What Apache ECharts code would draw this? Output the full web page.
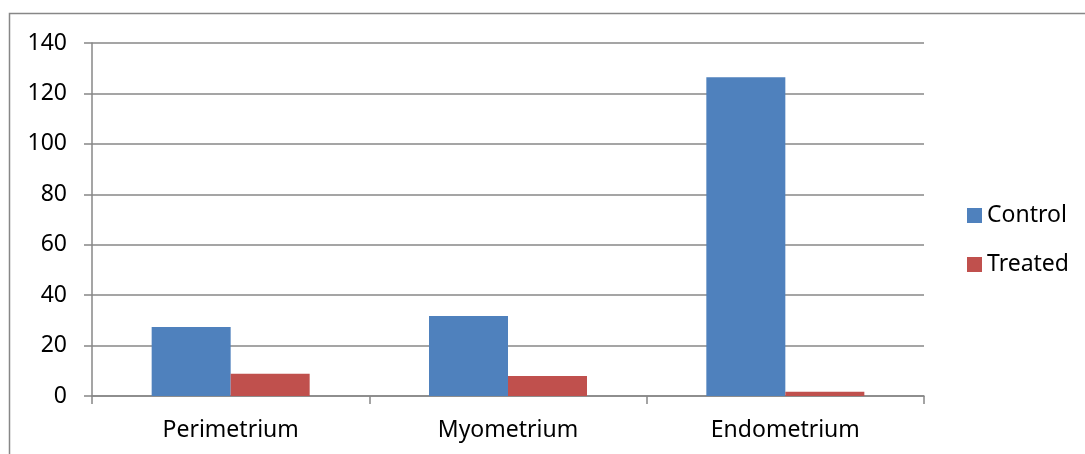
<!DOCTYPE html>
<html>
<head>
<meta charset="utf-8">
<script src="https://cdn.jsdelivr.net/npm/echarts@6/dist/echarts.min.js"></script>
<style>
  html, body { margin: 0; padding: 0; background: #fff; }
  #chart { width: 1085px; height: 454px; }
</style>
</head>
<body>
<div id="chart"></div>
<script>
const categories = ['Perimetrium', 'Myometrium', 'Endometrium']
const control = [27.4, 31.7, 126.4]
const treated = [8.8, 7.9, 1.7]
const yTicks = { min: 0, max: 140, interval: 20 }

const gray = '#878787'
const font = "'Noto Sans', sans-serif"

const chart = echarts.init(document.getElementById('chart'))

const option = {
  animation: false,
  textStyle: { fontFamily: font },
  grid: { left: 92, right: 161, top: 43, bottom: 58 },
  legend: {
    orient: 'vertical',
    left: 967,
    top: 204,
    padding: 0,
    icon: 'rect',
    itemWidth: 15,
    itemHeight: 15,
    itemGap: 26,
    textStyle: { fontSize: 23, lineHeight: 22, color: '#000', fontFamily: font },
    data: ['Control', 'Treated']
  },
  xAxis: {
    type: 'category',
    data: categories,
    axisLine: { lineStyle: { color: gray, width: 1.5 } },
    axisTick: { show: true, length: 8, lineStyle: { color: gray, width: 1.5 } },
    axisLabel: { fontSize: 23, color: '#000', margin: 23 }
  },
  yAxis: {
    type: 'value',
    min: yTicks.min,
    max: yTicks.max,
    interval: yTicks.interval,
    axisLine: { show: true, lineStyle: { color: gray, width: 1.5 } },
    axisTick: { show: true, length: 8, lineStyle: { color: gray, width: 1.5 } },
    axisLabel: { fontSize: 23, color: '#000', margin: 25 },
    splitLine: { lineStyle: { color: gray, width: 1.5 } }
  },
  series: [
    {
      name: 'Control',
      type: 'bar',
      data: control,
      barWidth: 79,
      barGap: '0%',
      itemStyle: { color: '#4F81BD' }
    },
    {
      name: 'Treated',
      type: 'bar',
      data: treated,
      barWidth: 79,
      itemStyle: { color: '#C0504D' }
    }
  ],
  graphic: [
    {
      type: 'polyline',
      silent: true,
      shape: { points: [[9.5, 454], [9.5, 13.5], [1085, 13.5]] },
      style: { stroke: gray, lineWidth: 1.5, fill: null }
    }
  ]
}

chart.setOption(option)
</script>
</body>
</html>
